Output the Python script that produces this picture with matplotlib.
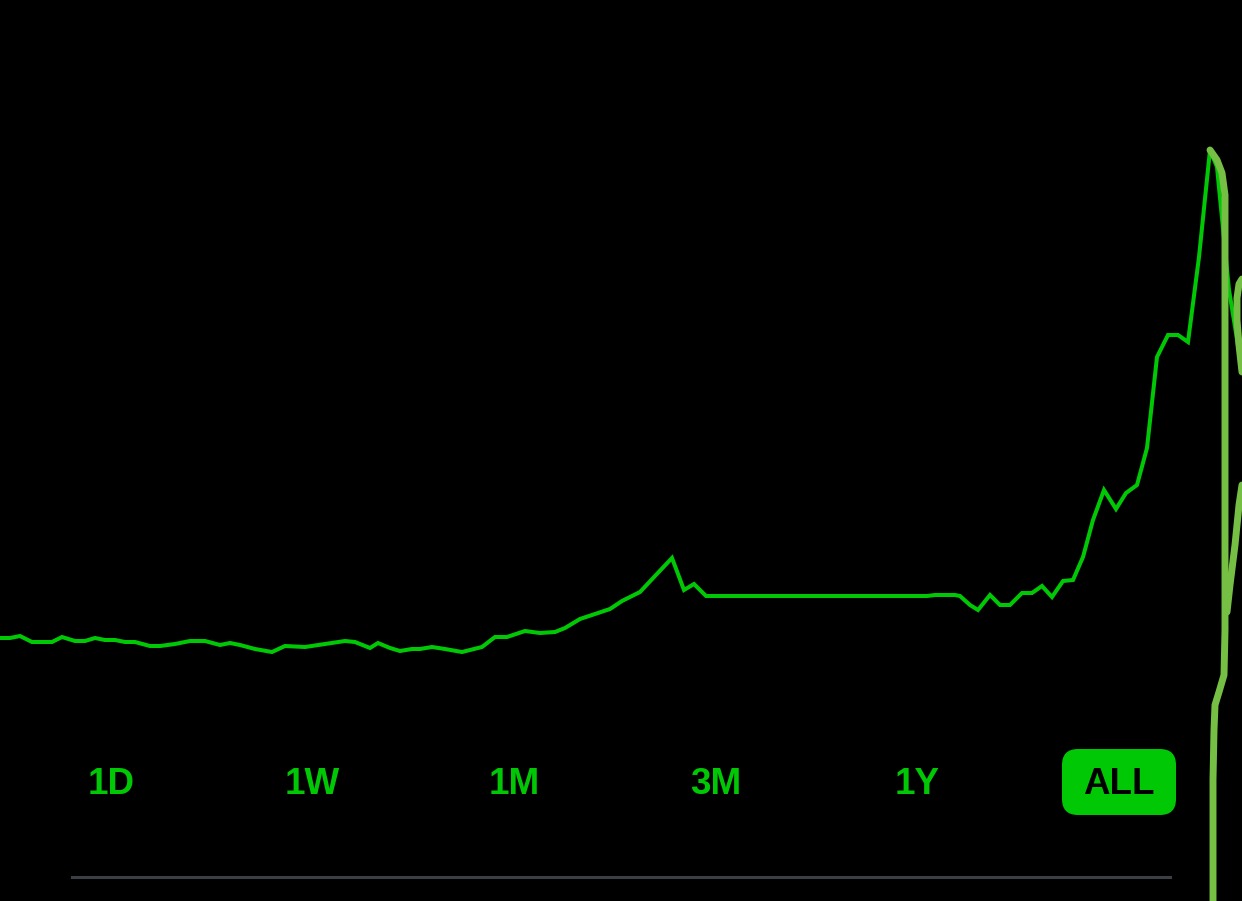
import matplotlib.pyplot as plt
from matplotlib.patches import FancyBboxPatch

# price history (arbitrary units)
days = [0, 10, 20, 32, 52, 62, 75, 85, 95, 105, 115, 125, 135, 150, 160, 175, 190, 205,
        220, 230, 240, 255, 272, 285, 305, 325, 345, 355, 370, 378, 390, 400, 412, 420,
        432, 445, 462, 482, 495, 507, 525, 540, 555, 565, 580, 595, 610, 622, 640, 655,
        672, 684, 694, 706, 927, 935, 955, 960, 970, 978, 990, 1000, 1010, 1022, 1032,
        1042, 1052, 1063, 1073, 1083, 1093, 1104, 1116, 1126, 1137, 1147, 1157, 1168,
        1178, 1188, 1199, 1210, 1217, 1229, 1242]
price = [62, 62, 64, 58, 58, 63, 59, 59, 62, 60, 60, 58, 58, 54, 54, 56, 59, 59,
         55, 57, 55, 51, 48, 54, 53, 56, 59, 58, 52, 57, 52, 49, 51, 51,
         53, 51, 48, 53, 63, 63, 69, 67, 68, 72, 81, 86, 91, 99, 108, 124,
         142, 110, 116, 104, 104, 105, 105, 104, 95, 90, 105, 95, 95, 107, 107,
         114, 103, 119, 120, 143, 180, 210, 191, 207, 215, 252, 343, 365,
         365, 358, 443, 550, 533, 410, 330]

ranges = ['1D', '1W', '1M', '3M', '1Y', 'ALL']
selected = 'ALL'

# hand-drawn marker stroke on top of the screenshot (pixel coords)
stroke_x = [1210, 1217, 1222, 1225, 1225, 1225, 1224, 1219, 1215, 1214, 1213, 1213, 1213]
stroke_y = [150, 160, 173, 195, 380, 630, 675, 692, 705, 730, 780, 850, 901]
branch_x = [1227, 1230, 1235, 1239, 1242]
branch_y = [612, 585, 545, 505, 485]
hook_x = [1242, 1239, 1237, 1237, 1239, 1242]
hook_y = [279, 284, 298, 320, 345, 372]

green = '#00c805'
marker = '#76bf45'

fig = plt.figure(figsize=(12.42, 9.01), dpi=100, facecolor='black')
ax = fig.add_axes([0, 0, 1, 1])
ax.set_facecolor('black')
ax.plot(days, price, color=green, lw=2.9, solid_joinstyle='miter')
ax.set_xlim(0, 1242)
ax.set_ylim(-201, 700)
ax.axis('off')

ui = fig.add_axes([0, 0, 1, 1])
ui.set_xlim(0, 1242)
ui.set_ylim(901, 0)
ui.axis('off')
ui.patch.set_alpha(0)

for i, r in enumerate(ranges):
    cx = 111 + i * 201.5
    if r == selected:
        ui.add_patch(FancyBboxPatch((1062 + 16, 749 + 16), 114 - 32, 66 - 32,
                                    boxstyle='round,pad=16', fc=green, ec='none'))
        col = 'black'
    else:
        col = green
    ui.text(cx, 784, r, color=col, fontsize=26.5, fontweight='bold',
            family=['Liberation Sans Narrow', 'Liberation Sans', 'DejaVu Sans'],
            ha='center', va='center')

ui.plot([72, 1170], [877, 877], color='#3b3f44', lw=2.2)

ui.plot(stroke_x, stroke_y, color=marker, lw=5, solid_capstyle='round')
ui.plot(branch_x, branch_y, color=marker, lw=5, solid_capstyle='round')
ui.plot(hook_x, hook_y, color=marker, lw=5, solid_capstyle='round')

fig.savefig('out.png', dpi=100, facecolor='black')
